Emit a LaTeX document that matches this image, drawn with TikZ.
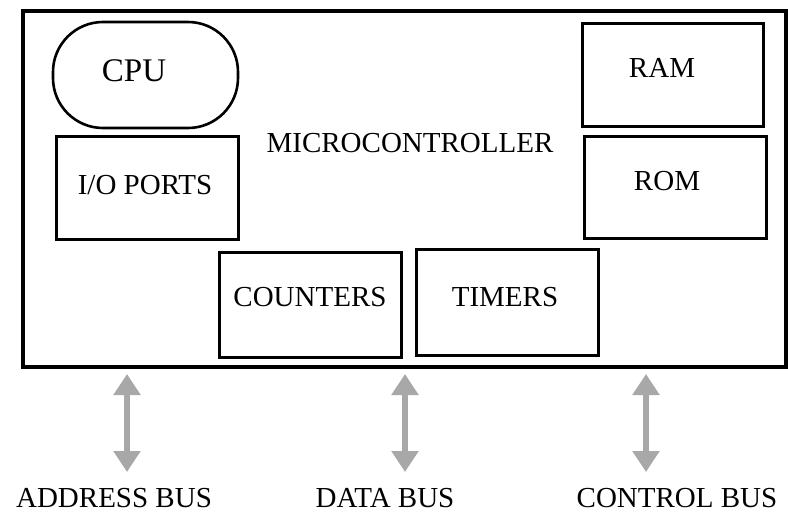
\documentclass[tikz,border=0pt]{standalone}
\usepackage{fontspec}
\setmainfont{Liberation Serif}
\usetikzlibrary{arrows.meta}
\definecolor{busgray}{HTML}{A8A8A8}
\tikzset{
  box/.style={draw=black, line width=3pt, inner sep=0pt},
  lbl/.style={inner sep=0pt, font=\fontsize{29}{34}\selectfont},
  bus/.style={draw=busgray, line width=6pt, {Triangle[width=26pt,length=21pt]}-{Triangle[width=26pt,length=21pt]}},
}
\begin{document}
\begin{tikzpicture}[x=1pt,y=-1pt]
\useasboundingbox (0,0) rectangle (788,516);
\fill[white] (0,0) rectangle (788,516);
% outer microcontroller box
\node[box, line width=3.5pt, minimum width=763pt, minimum height=356pt] (mc) at (404.5,189) {};
\node[lbl] (mct) at (410,143) {MICROCONTROLLER};
% CPU
\node[box, line width=2.6pt, rounded corners=50pt, minimum width=185pt, minimum height=106pt] (cpu) at (145.5,75) {};
\node[lbl, font=\fontsize{33}{38}\selectfont] (cput) at (134,71) {CPU};
% I/O ports
\node[box, minimum width=182pt, minimum height=103pt] (io) at (147,188.5) {};
\node[lbl] (iot) at (145,185) {I/O PORTS};
% RAM, ROM
\node[box, minimum width=181pt, minimum height=103pt] (ram) at (672.5,75.5) {};
\node[lbl] (ramt) at (662,68) {RAM};
\node[box, minimum width=182pt, minimum height=102pt] (rom) at (675,188) {};
\node[lbl] (romt) at (667,181) {ROM};
% counters, timers
\node[box, minimum width=182pt, minimum height=104pt] (cnt) at (310,305) {};
\node[lbl] (cntt) at (310,297) {COUNTERS};
\node[box, minimum width=182pt, minimum height=105pt] (tim) at (507,302.5) {};
\node[lbl] (timt) at (505,297) {TIMERS};
% buses
\coordinate (a1) at (127,374);
\coordinate (a2) at (127,472);
\coordinate (d1) at (405,374);
\coordinate (d2) at (405,472);
\coordinate (c1) at (646,374);
\coordinate (c2) at (646,472);
\draw[bus] (a1) -- (a2);
\draw[bus] (d1) -- (d2);
\draw[bus] (c1) -- (c2);
\node[lbl] (ab) at (114,498) {ADDRESS BUS};
\node[lbl] (db) at (385,498) {DATA BUS};
\node[lbl] (cb) at (677,498) {CONTROL BUS};
\end{tikzpicture}
\end{document}
